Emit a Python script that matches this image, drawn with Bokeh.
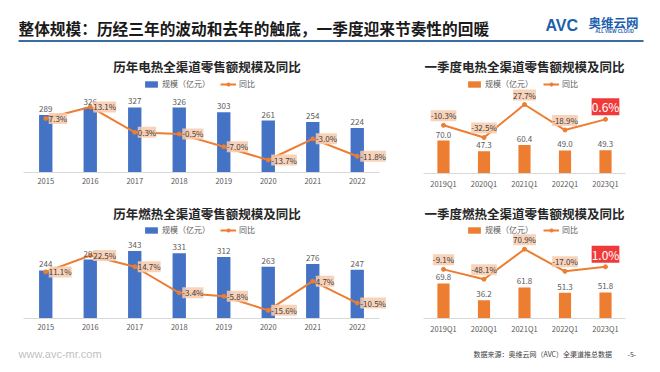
from bokeh.plotting import figure
from bokeh.models import (ColumnDataSource, Range1d, FactorRange, LabelSet, Label,
                          Legend, LegendItem)
from bokeh.layouts import column, row
from bokeh.embed import file_html
from bokeh.resources import INLINE
from bokeh.core.properties import value

FONT = "Noto Sans CJK SC"
BLUE = "#4472c4"
ORANGE = "#ed7d31"
BOX = "#f8cbad"
RED = "#f03a3a"

page_title = "整体规模：历经三年的波动和去年的触底，一季度迎来节奏性的回暖"
chart_titles = ["历年电热全渠道零售额规模及同比", "历年燃热全渠道零售额规模及同比",
                "一季度电热全渠道零售额规模及同比", "一季度燃热全渠道零售额规模及同比"]
legend_labels = ["规模（亿元）", "同比"]
site_text = "www.avc-mr.com"
source_text = "数据来源：奥维云网（AVC）全渠道推总数据"
page_no = "-5-"

years = ["2015", "2016", "2017", "2018", "2019", "2020", "2021", "2022"]
elec_scale = [289, 326, 327, 326, 303, 261, 254, 224]
elec_yoy = [7.3, 13.1, 0.3, -0.5, -7.0, -13.7, -3.0, -11.8]
gas_scale = [244, 299, 343, 331, 312, 263, 276, 247]
gas_yoy = [11.1, 22.5, 14.7, -3.4, -5.8, -15.6, 4.7, -10.5]

quarters = ["2019Q1", "2020Q1", "2021Q1", "2022Q1", "2023Q1"]
elec_q_scale = [70.0, 47.3, 60.4, 49.0, 49.3]
elec_q_yoy = [-10.3, -32.5, 27.7, -18.9, 0.6]
gas_q_scale = [69.8, 36.2, 61.8, 51.3, 51.8]
gas_q_yoy = [-9.1, -48.1, 70.9, -17.0, 1.0]


def set_padding(obj, pad):
    try:
        obj.padding = pad
    except Exception:
        pass


def make_chart(cats, scale, yoy, title, bar_color, width, height, bl, br, bb,
               cat_pad, y_max, yoy_lo, yoy_hi, title_x, title_y, quarterly, bar_fmt):
    p = figure(x_range=FactorRange(*cats, range_padding=cat_pad,
                                   range_padding_units="absolute"),
               y_range=Range1d(0, y_max),
               width=width, height=height, output_backend="svg",
               toolbar_location=None, y_axis_location=None,
               min_border_left=bl, min_border_right=br, min_border_top=0,
               min_border_bottom=bb, outline_line_color=None,
               background_fill_color="white", border_fill_color="white")
    p.extra_y_ranges = {"yoy": Range1d(yoy_lo, yoy_hi)}
    p.xgrid.grid_line_color = None
    p.ygrid.grid_line_color = None
    ax = p.xaxis[0]
    ax.bounds = (0, len(cats))
    ax.axis_line_color = "#d9d9d9"
    ax.major_tick_line_color = None
    ax.minor_tick_line_color = None
    ax.major_tick_out = 0
    ax.major_label_standoff = 5 if not quarterly else 4
    ax.major_label_text_font = FONT
    ax.major_label_text_font_size = "7.5px"
    ax.major_label_text_color = "#595959"

    body = cats[:-1] if quarterly else cats
    src = ColumnDataSource(dict(
        cat=cats, scale=scale, yoy=yoy,
        scale_txt=[bar_fmt.format(v) for v in scale],
        yoy_txt=["{:.1f}%".format(v) for v in yoy]))
    lab_src = ColumnDataSource(dict(
        cat=body, yoy=yoy[:len(body)],
        yoy_txt=["{:.1f}%".format(v) for v in yoy[:len(body)]]))

    bars = p.vbar(x="cat", top="scale", width=0.3, source=src,
                  fill_color=bar_color, line_color=None)
    ln = p.line(x="cat", y="yoy", source=src, y_range_name="yoy",
                line_color=ORANGE, line_width=2)
    pts = p.scatter(x="cat", y="yoy", source=src, y_range_name="yoy",
                    size=4, fill_color=ORANGE, line_color=ORANGE)

    p.add_layout(LabelSet(x="cat", y="scale", text="scale_txt", source=src,
                          text_align="center", text_baseline="bottom", y_offset=3,
                          text_font=value(FONT), text_font_size="8px",
                          text_color="#595959"))
    if quarterly:
        ls = LabelSet(x="cat", y="yoy", text="yoy_txt", source=lab_src,
                      y_range_name="yoy", text_align="center",
                      text_baseline="bottom", y_offset=4,
                      text_font=value(FONT), text_font_size="8px",
                      text_color="#404040", background_fill_color=BOX,
                      background_fill_alpha=0.85)
    else:
        ls = LabelSet(x="cat", y="yoy", text="yoy_txt", source=lab_src,
                      y_range_name="yoy", text_align="left",
                      text_baseline="middle", x_offset=3,
                      text_font=value(FONT), text_font_size="8px",
                      text_color="#404040", background_fill_color=BOX,
                      background_fill_alpha=0.85)
    set_padding(ls, 1)
    p.add_layout(ls)

    if quarterly:
        hl_src = ColumnDataSource(dict(
            cat=[cats[-1]], yoy=[yoy[-1]],
            yoy_txt=["{:.1f}%".format(yoy[-1])]))
        hl = LabelSet(x="cat", y="yoy", text="yoy_txt", source=hl_src,
                      y_range_name="yoy", text_align="center",
                      text_baseline="bottom", y_offset=4,
                      text_font=value(FONT), text_font_size="12px",
                      text_color="white", background_fill_color=RED,
                      background_fill_alpha=1.0)
        set_padding(hl, 3)
        p.add_layout(hl)

    p.add_layout(Label(x=title_x, y=title_y, x_units="screen", y_units="screen",
                       text=title, text_align="center", text_baseline="middle",
                       text_font=FONT, text_font_size="12.5px",
                       text_font_style="bold", text_color="#262626"))

    legend = Legend(items=[LegendItem(label=legend_labels[0], renderers=[bars]),
                           LegendItem(label=legend_labels[1], renderers=[ln, pts])],
                    location="top_center", orientation="horizontal",
                    margin=26, padding=0, spacing=10, glyph_width=16,
                    glyph_height=8, label_height=10, label_standoff=3,
                    label_text_font=FONT, label_text_font_size="8px",
                    label_text_color="#595959", background_fill_alpha=0,
                    border_line_color=None)
    p.add_layout(legend)
    return p


# left column: canvas x 0..392, frame x 10..392
lt = make_chart(years, elec_scale, elec_yoy, chart_titles[0], BLUE,
                392, 146, 10, 0, 26, 0.292, 603, -20, 40.6, 196.5, 106, False, "{:d}")
lb = make_chart(years, gas_scale, gas_yoy, chart_titles[1], BLUE,
                392, 142, 10, 0, 22, 0.292, 609, -21.25, 62.1, 196.5, 105, False, "{:d}")
# right column: canvas x 392..660, frame x 392..656
rt = make_chart(quarters, elec_q_scale, elec_q_yoy, chart_titles[2], ORANGE,
                268, 146, 0, 4, 25, 0.759, 257, -98.2, 122.6, 132, 107, True, "{:.1f}")
rb = make_chart(quarters, gas_q_scale, gas_q_yoy, chart_titles[3], ORANGE,
                268, 142, 0, 4, 22, 0.759, 239, -204, 272, 132, 105, True, "{:.1f}")


def blank(height, y0, y1):
    f = figure(width=660, height=height, x_range=Range1d(0, 660),
               y_range=Range1d(y1, y0), output_backend="svg",
               toolbar_location=None, x_axis_location=None, y_axis_location=None,
               min_border=0, outline_line_color=None,
               background_fill_color="white", border_fill_color="white")
    f.xgrid.grid_line_color = None
    f.ygrid.grid_line_color = None
    return f


header = blank(52, 0, 52)
header.text(x=[18], y=[28], text=[page_title], text_font=value(FONT),
            text_font_size="15.7px", text_font_style="bold", text_color="#1a1a1a",
            text_baseline="middle", text_align="left")
header.segment(x0=[18], y0=[40.5], x1=[643], y1=[40.5], line_color="#3b6ba5",
               line_width=2)
header.text(x=[545], y=[25], text=["AVC"], text_font=value("Liberation Sans"),
            text_font_size="16px", text_font_style="bold",
            text_color="#1d5fad", text_baseline="middle", text_align="left")
header.text(x=[588], y=[22], text=["奥维云网"], text_font=value(FONT),
            text_font_size="12.5px", text_font_style="bold",
            text_color="#1d5fad", text_baseline="middle", text_align="left")
header.text(x=[614], y=[31], text=["ALL VIEW CLOUD"], text_font=value("Liberation Sans"),
            text_font_size="4.5px", text_font_style="bold",
            text_color="#1d5fad", text_baseline="middle", text_align="center")

footer = blank(32, 340, 372)
footer.text(x=[18], y=[353], text=[site_text], text_font=value("Liberation Sans"),
            text_font_size="11px", text_color="#bfbfbf",
            text_baseline="middle", text_align="left")
footer.text(x=[473], y=[353], text=[source_text], text_font=value(FONT),
            text_font_size="7px", text_color="#404040",
            text_baseline="middle", text_align="left")
footer.text(x=[627], y=[353], text=[page_no], text_font=value(FONT),
            text_font_size="7px", text_color="#404040",
            text_baseline="middle", text_align="left")

layout = column(header, row(column(lt, lb), column(rt, rb)), footer)
open("out.html", "w").write(file_html(layout, INLINE))
